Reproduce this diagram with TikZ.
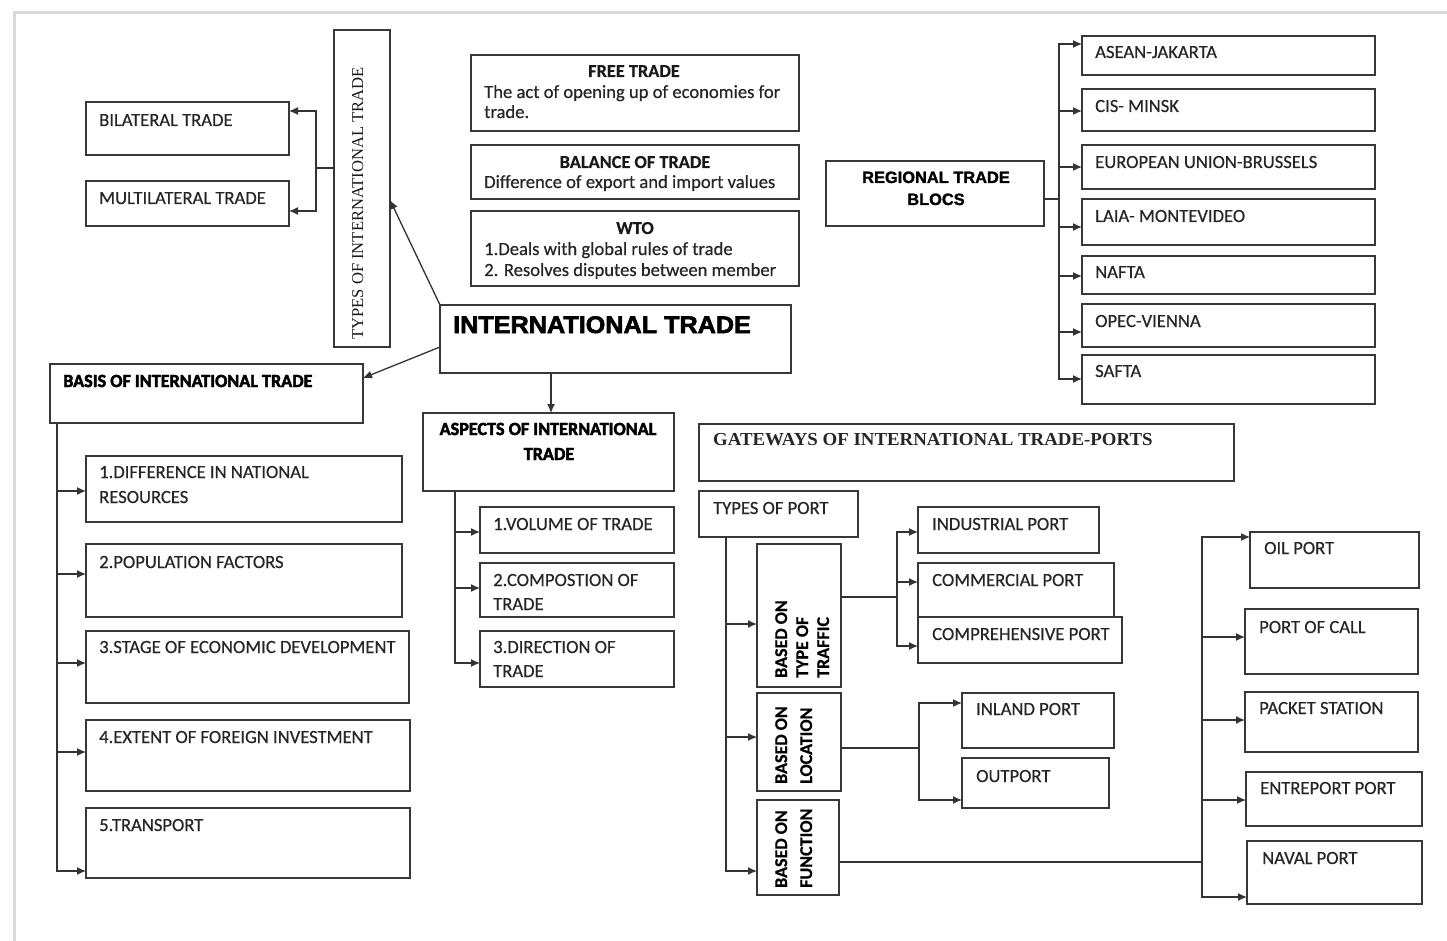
\documentclass[tikz,border=0pt]{standalone}
\usepackage{fontspec}
\setmainfont{Carlito}[FakeBold=0.5]
\newfontfamily\tnr{Liberation Serif}
\newfontfamily\tnrw{Liberation Serif}[FakeStretch=1.03]
\newfontfamily\hvy{Carlito}[FakeStretch=0.98,FakeBold=2.5]
\newfontfamily\bigf{Liberation Sans}[FakeStretch=1.05,FakeBold=2.5]
\newfontfamily\rgf{Liberation Sans}[FakeStretch=1.0,FakeBold=1.5]
\usetikzlibrary{arrows.meta}
\newcommand\bx[5]{\node[box,minimum width={(#4)-(#2)},minimum height={(#5)-(#3)}] (#1) at ({((#2)+(#4))/2},{((#3)+(#5))/2}) {};}
\begin{document}
\begin{tikzpicture}[x=1pt,y=-1pt,
 box/.style={draw=black!78,line width=1.4pt,inner sep=0pt,outer sep=0pt},
 txt/.style={anchor=base west,inner sep=0pt,text=black!85,font=\fontsize{18.6}{21}\selectfont},
 ctxt/.style={anchor=base,inner sep=0pt,text=black!90,font=\bfseries\fontsize{18.3}{21}\selectfont},
 ttl/.style={anchor=base,inner sep=0pt,text=black,font=\hvy\bfseries\fontsize{18.5}{21}\selectfont},
 vtxt/.style={anchor=base west,inner sep=0pt,rotate=90,text=black,font=\bfseries\fontsize{18}{21}\selectfont},
 ln/.style={draw=black!80,line width=1.3pt},
 arr/.style={ln,-{Latex[length=9pt,width=8pt]}},
]
\useasboundingbox (0,0) rectangle (1447,941);
\fill[white] (0,0) rectangle (1447,941);
\draw[gray!30,line width=3pt] (14,941) -- (14,13) -- (1447,13);

% boxes
\bx{types}{334}{30}{390}{347}
\bx{bil}{86}{102}{289}{155}
\bx{mul}{86}{181}{289}{226}
\bx{free}{471}{55}{799}{131}
\bx{bal}{471}{145}{799}{199}
\bx{wto}{471}{211}{799}{286}
\bx{it}{440}{305}{791}{373}
\bx{basis}{50}{364}{363}{423}
\bx{asp}{423}{413}{674}{491}
\bx{b1}{86}{456}{402}{522}
\bx{b2}{86}{544}{402}{617}
\bx{b3}{86}{631}{409}{703}
\bx{b4}{86}{720}{410}{791}
\bx{b5}{86}{808}{410}{878}
\bx{vol}{480}{507}{674}{553}
\bx{comp}{480}{563}{674}{617}
\bx{dir}{480}{631}{674}{687}
\bx{rtb}{826}{161}{1044}{226}
\bx{asean}{1082}{36}{1375}{75}
\bx{cis}{1082}{89}{1375}{131}
\bx{eu}{1082}{145}{1375}{189}
\bx{laia}{1082}{199}{1375}{245}
\bx{nafta}{1082}{256}{1375}{294}
\bx{opec}{1082}{304}{1375}{347}
\bx{safta}{1082}{355}{1375}{404}
\bx{gate}{699}{424}{1234}{481}
\bx{top}{699}{491}{858}{537}
\bx{traffic}{757}{544}{841}{687}
\bx{loc}{757}{693}{841}{791}
\bx{func}{757}{800}{839}{895}
\bx{ind}{918}{507}{1099}{553}
\bx{com}{918}{563}{1114}{617}
\bx{cmp}{918}{617}{1122}{663}
\bx{inl}{962}{693}{1114}{748}
\bx{outp}{962}{758}{1109}{808}
\bx{oil}{1250}{532}{1419}{588}
\bx{call}{1245}{609}{1418}{674}
\bx{pack}{1245}{692}{1418}{752}
\bx{entr}{1246}{772}{1422}{826}
\bx{naval}{1247}{841}{1422}{904}

% texts
\node[txt] (bilT) at (99,126) {BILATERAL TRADE};
\node[txt] (mulT) at (99,204) {MULTILATERAL TRADE};
\node[anchor=base west,inner sep=0pt,rotate=90,text=black!90,font=\tnr\fontsize{16.6}{16}\selectfont] (typesT) at (363,340) {TYPES OF INTERNATIONAL TRADE};
\node[ctxt] (freeT) at (634,77) {FREE TRADE};
\node[txt] (freeA) at (484,98) {The act of opening up of economies for};
\node[txt] (freeB) at (484,118) {trade.};
\node[ctxt] (balT) at (635,168) {BALANCE OF TRADE};
\node[txt] (balA) at (484,188) {Difference of export and import values};
\node[ctxt] (wtoT) at (635,234) {WTO};
\node[txt] (wtoA) at (484,255) {1.Deals with global rules of trade};
\node[txt] (wtoB) at (484,276) {2. Resolves disputes between member};
\node[anchor=base west,inner sep=0pt,text=black,font=\bigf\bfseries\fontsize{24}{24}\selectfont] (itT) at (453,333) {INTERNATIONAL TRADE};
\node[ttl,anchor=base west] (basisT) at (63,387) {BASIS OF INTERNATIONAL TRADE};
\node[ttl] (aspA) at (548,435) {ASPECTS OF INTERNATIONAL};
\node[ttl] (aspB) at (549,460) {TRADE};
\node[anchor=base,inner sep=0pt,text=black,font=\rgf\bfseries\fontsize{16.4}{16}\selectfont] (rtbA) at (936,183) {REGIONAL TRADE};
\node[anchor=base,inner sep=0pt,text=black,font=\rgf\bfseries\fontsize{16.4}{16}\selectfont] (rtbB) at (936,205) {BLOCS};
\node[txt] (aseanT) at (1095,58) {ASEAN-JAKARTA};
\node[txt] (cisT) at (1095,112) {CIS- MINSK};
\node[txt] (euT) at (1095,168) {EUROPEAN UNION-BRUSSELS};
\node[txt] (laiaT) at (1095,222) {LAIA- MONTEVIDEO};
\node[txt] (naftaT) at (1095,278) {NAFTA};
\node[txt] (opecT) at (1095,327) {OPEC-VIENNA};
\node[txt] (saftaT) at (1095,377) {SAFTA};
\node[txt] (b1A) at (99,478) {1.DIFFERENCE IN NATIONAL};
\node[txt] (b1B) at (99,503) {RESOURCES};
\node[txt] (b2T) at (99,568) {2.POPULATION FACTORS};
\node[txt] (b3T) at (99,653) {3.STAGE OF ECONOMIC DEVELOPMENT};
\node[txt] (b4T) at (99,743) {4.EXTENT OF FOREIGN INVESTMENT};
\node[txt] (b5T) at (99,831) {5.TRANSPORT};
\node[txt] (volT) at (493,530) {1.VOLUME OF TRADE};
\node[txt] (compA) at (493,586) {2.COMPOSTION OF};
\node[txt] (compB) at (493,610) {TRADE};
\node[txt] (dirA) at (493,653) {3.DIRECTION OF};
\node[txt] (dirB) at (493,677) {TRADE};
\node[anchor=base west,inner sep=0pt,text=black!85,font=\tnrw\bfseries\fontsize{18.3}{18}\selectfont] (gateT) at (713,445) {GATEWAYS OF INTERNATIONAL TRADE-PORTS};
\node[txt] (topT) at (713,514) {TYPES OF PORT};
\node[txt] (indT) at (932,530) {INDUSTRIAL PORT};
\node[txt] (comT) at (932,586) {COMMERCIAL PORT};
\node[txt] (cmpT) at (932,640) {COMPREHENSIVE PORT};
\node[txt] (inlT) at (976,715) {INLAND PORT};
\node[txt] (outT) at (976,782) {OUTPORT};
\node[vtxt] (trA) at (787,678) {BASED ON};
\node[vtxt] (trB) at (808,678) {TYPE OF};
\node[vtxt] (trC) at (829,678) {TRAFFIC};
\node[vtxt] (lcA) at (787,784) {BASED ON};
\node[vtxt] (lcB) at (812,784) {LOCATION};
\node[vtxt] (fnA) at (787,888) {BASED ON};
\node[vtxt] (fnB) at (812,888) {FUNCTION};
\node[txt] (oilT) at (1264,554) {OIL PORT};
\node[txt] (callT) at (1259,633) {PORT OF CALL};
\node[txt] (packT) at (1259,714) {PACKET STATION};
\node[txt] (entrT) at (1260,794) {ENTREPORT PORT};
\node[txt] (navalT) at (1262,864) {NAVAL PORT};

% connectors
\coordinate (tj) at (316,168);
\draw[ln] (types.west |- tj) -- (tj);
\draw[arr] (tj) |- (bil.east |- 0,111);
\draw[arr] (tj) |- (mul.east |- 0,211);
\draw[arr] (it.north west) -- (types.east |- 0,200);
\draw[arr] (it.west |- 0,347) -- (basis.east |- 0,378);
\draw[arr] (it.south -| 551,0) -- (asp.north -| 551,0);

\coordinate (bT) at (57,423);
\foreach \n/\y in {b1/491,b2/574,b3/663,b4/752,b5/871}
  \draw[arr] (bT) |- (\n.west |- 0,\y);
\coordinate (aT) at (455,491);
\foreach \n/\y in {vol/532,comp/588,dir/663}
  \draw[arr] (aT) |- (\n.west |- 0,\y);

\coordinate (rT) at (1059,199);
\draw[ln] (rtb.east |- rT) -- (rT);
\foreach \n/\y in {asean/44,cis/111,eu/167,laia/227,nafta/276,opec/332,safta/379}
  \draw[arr] (rT) |- (\n.west |- 0,\y);

\coordinate (pT) at (726,537);
\foreach \n/\y in {traffic/624,loc/737,func/871}
  \draw[arr] (pT) |- (\n.west |- 0,\y);

\coordinate (trj) at (897,597);
\draw[ln] (traffic.east |- trj) -- (trj);
\foreach \n/\y in {ind/532,com/582,cmp/646}
  \draw[arr] (trj) |- (\n.west |- 0,\y);

\coordinate (lcj) at (919,748);
\draw[ln] (loc.east |- lcj) -- (lcj);
\foreach \n/\y in {inl/703,outp/800}
  \draw[arr] (lcj) |- (\n.west |- 0,\y);

\coordinate (fnj) at (1202,862);
\draw[ln] (func.east |- fnj) -- (fnj);
\foreach \n/\y in {oil/537,call/637,pack/720,entr/800,naval/897}
  \draw[arr] (fnj) |- (\n.west |- 0,\y);
\end{tikzpicture}
\end{document}
